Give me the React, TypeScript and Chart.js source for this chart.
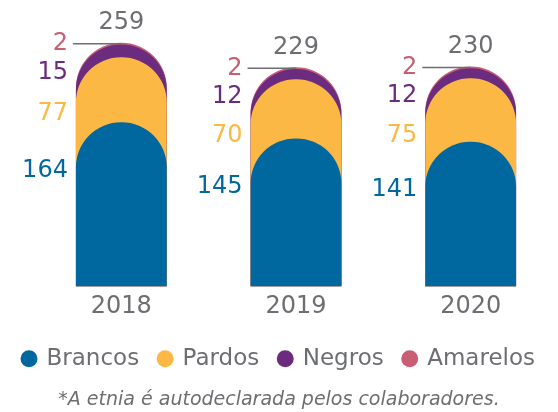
import React, { useEffect, useRef } from "react";
import { Chart, registerables } from "chart.js";

Chart.register(...registerables);

const years = ["2018", "2019", "2020"];
const brancos = [164, 145, 141];
const pardos = [77, 70, 75];
const negros = [15, 12, 12];
const amarelos = [2, 2, 2];
const totals = [259, 229, 230];
const seriesNames = ["Brancos", "Pardos", "Negros", "Amarelos"];
const footnote = "*A etnia é autodeclarada pelos colaboradores.";

const COLORS = ["#00679f", "#fbb845", "#6b2c80", "#c95d74"];
const GRAY = "#6d6e71";
const FONT = "'DejaVu Sans', sans-serif";
const Y_MIN = -30;
const Y_MAX = 285;

export default function App() {
  const ref = useRef<HTMLCanvasElement | null>(null);

  useEffect(() => {
    document.body.style.margin = "0";
    const series = [brancos, pardos, negros, amarelos];
    const cumulative = series.map((_, s) =>
      years.map((__, i) => series.slice(0, s + 1).reduce((a, arr) => a + arr[i], 0))
    );
    const offsets = [48, 57, 28, 1];

    const labelPlugin = {
      id: "labels",
      afterDatasetsDraw(chart: any) {
        const ctx = chart.ctx;
        ctx.save();
        ctx.font = `24px ${FONT}`;
        ctx.textBaseline = "middle";
        years.forEach((_, i) => {
          let twoRight = 0;
          let topY = 0;
          let cx = 0;
          series.forEach((arr, s) => {
            const bar = chart.getDatasetMeta(s).data[i] as any;
            const left = bar.x - bar.width / 2;
            ctx.fillStyle = COLORS[s];
            ctx.textAlign = "right";
            ctx.fillText(String(arr[i]), left - 8, bar.y + offsets[s]);
            if (s === 3) {
              twoRight = left - 3;
              topY = bar.y + 1;
              cx = bar.x;
            }
          });
          ctx.strokeStyle = GRAY;
          ctx.lineWidth = 1.5;
          ctx.beginPath();
          ctx.moveTo(twoRight, topY);
          ctx.lineTo(cx, topY);
          ctx.stroke();
          ctx.fillStyle = GRAY;
          ctx.textAlign = "center";
          ctx.fillText(String(totals[i]), cx, topY - 21);
        });
        ctx.restore();
      },
    };

    const chart = new Chart(ref.current as HTMLCanvasElement, {
      type: "bar",
      data: {
        labels: years,
        datasets: seriesNames.map((name, s) => ({
          label: name,
          data: cumulative[s],
          base: Y_MIN,
          backgroundColor: COLORS[s],
          borderWidth: 0,
          borderRadius: { topLeft: 45, topRight: 45, bottomLeft: 0, bottomRight: 0 },
          borderSkipped: "start",
          grouped: false,
          inflateAmount: 0,
          categoryPercentage: 1,
          barPercentage: 0.52,
        })) as any,
      },
      options: {
        animation: false,
        responsive: false,
        maintainAspectRatio: false,
        layout: { padding: { top: 20, left: 0, right: 0, bottom: 0 } },
        scales: {
          x: {
            grid: { display: false, drawTicks: false },
            border: { display: false },
            ticks: { color: GRAY, font: { family: FONT, size: 24 }, padding: 6 },
          },
          y: {
            display: true,
            min: Y_MIN,
            max: Y_MAX,
            grid: { display: false },
            border: { display: false },
            ticks: { display: false },
            afterFit(scale: any) {
              scale.width = 34;
            },
          },
        },
        plugins: {
          tooltip: { enabled: false },
          legend: {
            position: "bottom",
            labels: {
              usePointStyle: true,
              pointStyle: "circle",
              boxWidth: 12,
              boxHeight: 12,
              padding: 20,
              color: GRAY,
              font: { family: FONT, size: 23 },
            },
          },
          title: {
            display: true,
            position: "bottom",
            text: footnote,
            color: GRAY,
            font: { family: FONT, size: 19, style: "italic", weight: "normal" },
            padding: { top: 8, bottom: 1 },
          },
        },
      },
      plugins: [labelPlugin],
    });
    return () => chart.destroy();
  }, []);

  return (
    <div style={{ width: 558, height: 412 }}>
      <canvas ref={ref} width={558} height={412} style={{ display: "block" }} />
    </div>
  );
}
